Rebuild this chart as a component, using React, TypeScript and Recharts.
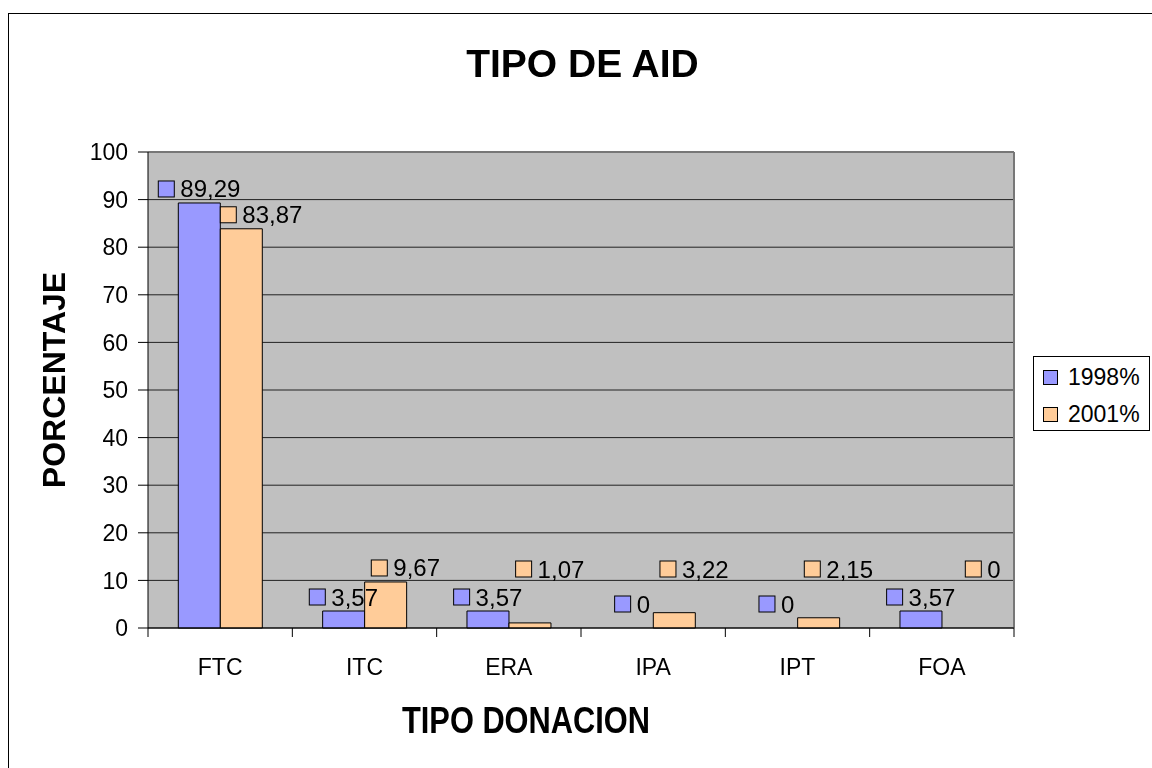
import { BarChart, Bar, XAxis, YAxis, CartesianGrid, Legend, LabelList, Rectangle } from 'recharts';

const categories = ['FTC', 'ITC', 'ERA', 'IPA', 'IPT', 'FOA'];
const values1998 = [89.29, 3.57, 3.57, 0, 0, 3.57];
const values2001 = [83.87, 9.67, 1.07, 3.22, 2.15, 0];
const seriesNames = ['1998%', '2001%'];
const yTicks = [0, 10, 20, 30, 40, 50, 60, 70, 80, 90, 100];

const data = categories.map((name, i) => ({
    name,
    y1998: values1998[i],
    y2001: values2001[i],
}));

const FONT = '"Liberation Sans", Arial, sans-serif';
const COLOR_1998 = '#9999FF';
const COLOR_2001 = '#FFCC99';

// plot area edges (px), used for the margins and the band width of the ticks
const PLOT_LEFT = 148;
const PLOT_RIGHT = 1014;
const PLOT_TOP = 152;
const PLOT_BOTTOM = 628;
const BAND = (PLOT_RIGHT - PLOT_LEFT) / categories.length;

function fmt(v: number) {
    return String(v).replace('.', ',');
}

function textWidth(s: string, size: number) {
    let w = 0;
    for (const c of s) w += c === ',' ? 0.278 : 0.556;
    return w * size;
}

// Excel style data label: legend key square + value
function makeLabel(color: string, lift: number, shift: number) {
    return (props: any) => {
        const vb = props.viewBox || props;
        const x = vb.x, width = vb.width;
        const top = Math.min(vb.y, vb.y + vb.height);
        const bottom = Math.max(vb.y, vb.y + vb.height);
        const cy = Math.min(top, bottom - lift) - 14;
        const text = fmt(Number(props.value));
        const total = 16 + 6 + textWidth(text, 24);
        const left = x + width / 2 - total / 2 + shift;
        return (
            <g>
                <rect x={left} y={cy - 8} width={16} height={16} fill={color} stroke="#000" strokeWidth={1}/>
                <text x={left + 22} y={cy + 8.5} fontSize={24} fontFamily={FONT} fill="#000">{text}</text>
            </g>
        );
    };
}

// zero values keep a 1px rect (minPointSize) so their label still shows, but draw nothing
function makeShape(key: 'y1998' | 'y2001') {
    return (props: any) => {
        if (!props.payload || props.payload[key] === 0) return <g/>;
        return <Rectangle {...props}/>;
    };
}

function CategoryTick(props: any) {
    const {x, y, payload, index} = props;
    const last = index === categories.length - 1;
    return (
        <g>
            <line x1={x - BAND / 2} x2={x - BAND / 2} y1={y} y2={y + 9} stroke="#000"/>
            {last && <line x1={x + BAND / 2} x2={x + BAND / 2} y1={y} y2={y + 9} stroke="#000"/>}
            <text x={x} y={y + 47} textAnchor="middle" fontSize={23} fontFamily={FONT} fill="#000">
                {payload.value}
            </text>
        </g>
    );
}

function LegendBox() {
    const colors = [COLOR_1998, COLOR_2001];
    return (
        <div style={{
            boxSizing: 'border-box', width: 117, height: 75, border: '1px solid #000',
            background: '#fff', paddingTop: 2, fontFamily: FONT, fontSize: 23, color: '#000',
        }}>
            {seriesNames.map((n, i) => (
                <div key={n} style={{display: 'flex', alignItems: 'center', height: 37}}>
                    <span style={{
                        display: 'inline-block', boxSizing: 'border-box', width: 15, height: 15,
                        marginLeft: 9, marginRight: 10, background: colors[i], border: '1px solid #000',
                    }}/>
                    <span>{n}</span>
                </div>
            ))}
        </div>
    );
}

export default function App() {
    return (
        <div>
            <div style={{
                position: 'fixed', left: 8, top: 13, width: 1200, height: 800,
                border: '1px solid #000', background: '#fff',
            }}/>
            <div style={{
                position: 'fixed', left: 0, top: 44, width: 1165, textAlign: 'center',
                fontFamily: FONT, fontWeight: 'bold', fontSize: 39, lineHeight: '39px', color: '#000',
            }}>
                TIPO DE AID
            </div>
            <div style={{position: 'fixed', left: 0, top: 0}}>
                <BarChart
                    width={1152}
                    height={768}
                    data={data}
                    barCategoryGap="21%"
                    barGap={0}
                    margin={{top: PLOT_TOP, right: 1152 - PLOT_RIGHT, left: PLOT_LEFT - 60, bottom: 768 - PLOT_BOTTOM - 60}}
                >
                    <CartesianGrid vertical={false} stroke="#222" fill="#C0C0C0"/>
                    <CartesianGrid
                        stroke="#777"
                        strokeWidth={2}
                        horizontalCoordinatesGenerator={({offset}: any) => [offset.top]}
                        verticalCoordinatesGenerator={({offset}: any) => [offset.left + offset.width]}
                    />
                    <XAxis
                        dataKey="name"
                        interval={0}
                        height={60}
                        tickLine={false}
                        tickSize={0}
                        tickMargin={0}
                        axisLine={{stroke: '#000'}}
                        tick={(p: any) => <CategoryTick {...p}/>}
                        label={(p: any) => {
                            const vb = p.viewBox;
                            return (
                                <text x={vb.x + vb.width / 2 - 55} y={vb.y + 105} textAnchor="middle"
                                      fontSize={36} fontWeight="bold" fontFamily={FONT} fill="#000"
                                      textLength={248} lengthAdjust="spacingAndGlyphs">
                                    TIPO DONACION
                                </text>
                            );
                        }}
                    />
                    <YAxis
                        domain={[0, 100]}
                        ticks={yTicks}
                        interval={0}
                        width={60}
                        tickSize={10}
                        tickMargin={10}
                        axisLine={{stroke: '#000'}}
                        tickLine={{stroke: '#000'}}
                        tick={{fill: '#000', fontSize: 23, fontFamily: FONT}}
                        label={(p: any) => {
                            const vb = p.viewBox;
                            const lx = vb.x - 23;
                            const ly = 380;
                            return (
                                <text x={lx} y={ly} transform={`rotate(-90 ${lx} ${ly})`} textAnchor="middle"
                                      fontSize={32} fontWeight="bold" fontFamily={FONT} fill="#000">
                                    PORCENTAJE
                                </text>
                            );
                        }}
                    />
                    <Legend
                        layout="horizontal"
                        verticalAlign="middle"
                        align="center"
                        wrapperStyle={{left: 1033, top: 356, width: 117, height: 75}}
                        content={() => <LegendBox/>}
                    />
                    <Bar dataKey="y1998" name={seriesNames[0]} fill={COLOR_1998} stroke="#000" strokeWidth={1}
                         minPointSize={1} shape={makeShape('y1998')} isAnimationActive={false}>
                        <LabelList dataKey="y1998" content={makeLabel(COLOR_1998, 10, 0)}/>
                    </Bar>
                    <Bar dataKey="y2001" name={seriesNames[1]} fill={COLOR_2001} stroke="#000" strokeWidth={1}
                         minPointSize={1} shape={makeShape('y2001')} isAnimationActive={false}>
                        <LabelList dataKey="y2001" content={makeLabel(COLOR_2001, 45, 20)}/>
                    </Bar>
                </BarChart>
            </div>
        </div>
    );
}
